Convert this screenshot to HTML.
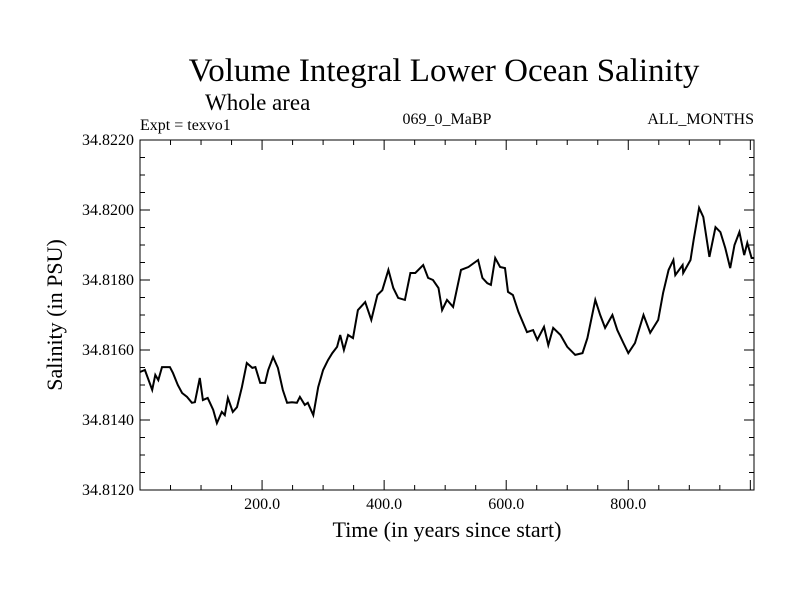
<!DOCTYPE html>
<html><head><meta charset="utf-8"><style>
body{margin:0;background:#fff;}
svg{display:block;font-family:"Liberation Serif",serif;}
</style></head><body>
<svg id="chart" width="800" height="600">
<text x="444" y="81" font-size="33" text-anchor="middle">Volume Integral Lower Ocean Salinity</text>
<text x="205" y="110" font-size="23">Whole area</text>
<text x="140" y="130" font-size="16">Expt = texvo1</text>
<text x="447" y="124" font-size="16" text-anchor="middle">069_0_MaBP</text>
<text x="754" y="124" font-size="16" text-anchor="end">ALL_MONTHS</text>
<text x="447" y="537" font-size="22" text-anchor="middle">Time (in years since start)</text>
<text transform="translate(62,315) rotate(-90)" font-size="22" text-anchor="middle">Salinity (in PSU)</text>
<g id="axes"></g>
<path id="line" fill="none" stroke="#000" stroke-width="2"></path>
</svg>
<script>
const years=[0,8,20,25,30,36,49,54,62,69,77,85,90,98,103,111,120,126,134,139,144,152,159,167,175,184,189,197,205,210,218,226,234,241,249,257,262,270,275,284,292,300,308,315,323,328,334,341,349,357,369,379,389,397,407,415,423,434,443,451,464,472,480,489,495,503,513,526,538,554,561,569,575,582,590,598,603,611,620,634,644,651,662,669,677,689,700,713,725,733,746,754,762,774,782,792,800,811,825,836,849,857,866,874,877,889,890,902,907,916,923,933,943,951,959,967,974,982,990,995,1002,1006];
const salinity=[34.81537,34.81543,34.81486,34.81529,34.81514,34.81551,34.81551,34.81534,34.815,34.81477,34.81466,34.81449,34.81451,34.8152,34.81457,34.81463,34.81429,34.81391,34.81423,34.81414,34.81463,34.81423,34.81437,34.81494,34.81563,34.81549,34.81551,34.81506,34.81506,34.81543,34.8158,34.81549,34.81486,34.81449,34.81451,34.81449,34.81466,34.81443,34.81449,34.81414,34.81494,34.81543,34.81571,34.81591,34.81609,34.81643,34.816,34.81643,34.81634,34.81714,34.81737,34.81686,34.81757,34.81771,34.81829,34.81777,34.81749,34.81743,34.8182,34.8182,34.81843,34.81806,34.818,34.81777,34.81714,34.81743,34.81723,34.81829,34.81837,34.81857,34.81806,34.81791,34.81786,34.81863,34.81837,34.81834,34.81766,34.81757,34.81709,34.81651,34.81657,34.81629,34.81666,34.81614,34.81663,34.81643,34.81609,34.81586,34.81591,34.81634,34.81743,34.817,34.81663,34.817,34.81657,34.8162,34.81591,34.8162,34.817,34.81649,34.81686,34.81763,34.81829,34.81857,34.81814,34.81843,34.8182,34.81857,34.81914,34.82006,34.8198,34.81866,34.81951,34.81937,34.81891,34.81834,34.819,34.81937,34.81871,34.81906,34.81863,34.81863];
const xTicks=[200,400,600,800];
const xTickLabels=["200.0","400.0","600.0","800.0"];
const yTicks=[34.812,34.814,34.816,34.818,34.82,34.822];
const yTickLabels=["34.8120","34.8140","34.8160","34.8180","34.8200","34.8220"];

const L=140,R=754,T=140,B=490,xMin=0,xMax=1006,yMin=34.812,yMax=34.822;
const xs=v=>L+(v-xMin)/(xMax-xMin)*(R-L);
const ys=v=>B-(v-yMin)/(yMax-yMin)*(B-T);
const NS="http://www.w3.org/2000/svg";
const ax=document.getElementById('axes');
function mk(tag,attrs){const e=document.createElementNS(NS,tag);for(const k in attrs)e.setAttribute(k,attrs[k]);ax.appendChild(e);return e;}
const frame=mk('rect',{x:L,y:T,width:R-L,height:B-T,fill:'none',stroke:'#000','stroke-width':1});


for(let v=50;v<xMax;v+=50){const x=xs(v),len=(v%200===0)?10:5;
 const t1=mk('line',{x1:x,x2:x,y1:B,y2:B-len,stroke:'#000'});
 
 
 const t2=mk('line',{x1:x,x2:x,y1:T,y2:T+len,stroke:'#000'});
 
 }
for(let i=0;i<=20;i++){const v=yMin+i*0.0005,y=ys(v),len=(i%4===0)?10:5;
 const t1=mk('line',{x1:L,x2:L+len,y1:y,y2:y,stroke:'#000'});
 
 
 const t2=mk('line',{x1:R,x2:R-len,y1:y,y2:y,stroke:'#000'});
 
 }
xTicks.forEach((v,i)=>{const t=mk('text',{x:xs(v),y:B+19,'font-size':16,'text-anchor':'middle'});t.textContent=xTickLabels[i];
 
 });
yTicks.forEach((v,i)=>{const t=mk('text',{x:L-6,y:ys(v)+5,'font-size':16,'text-anchor':'end'});t.textContent=yTickLabels[i];
 
 });
document.getElementById('line').setAttribute('d',years.map((v,i)=>(i?'L':'M')+xs(v).toFixed(1)+','+ys(salinity[i]).toFixed(1)).join(''));
</script>
</body></html>
